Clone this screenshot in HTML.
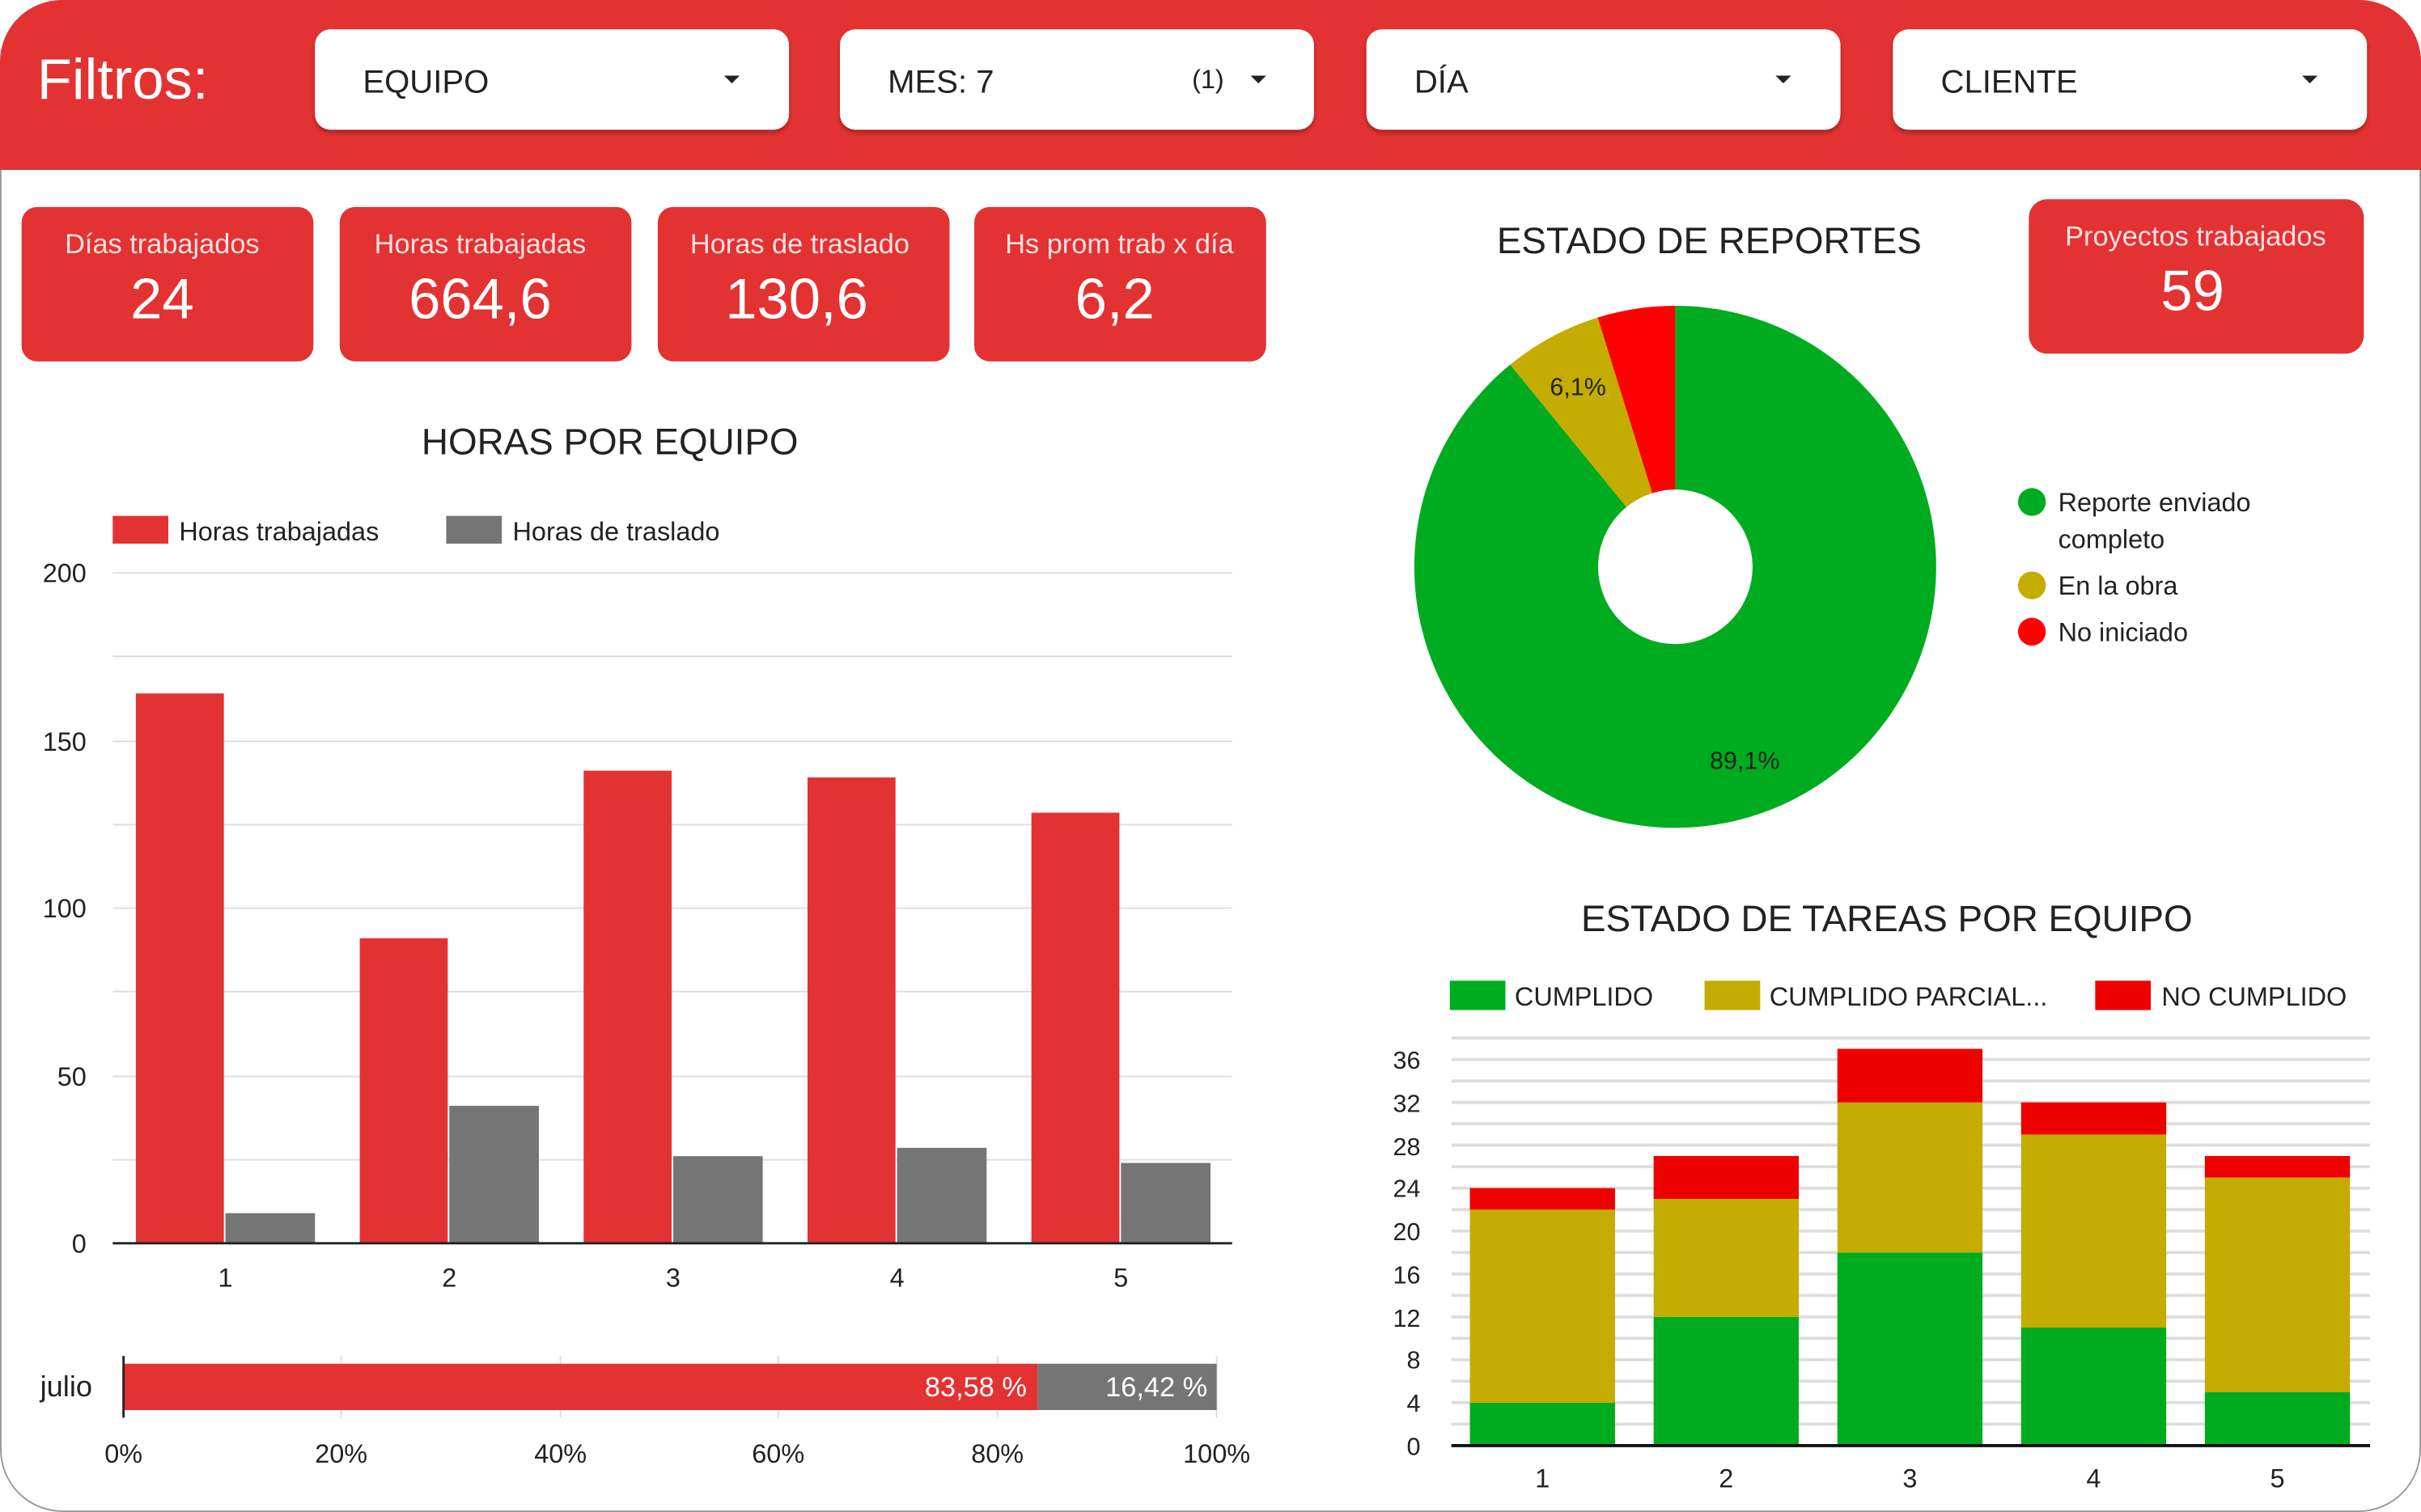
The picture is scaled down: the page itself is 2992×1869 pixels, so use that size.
<!DOCTYPE html>
<html><head><meta charset="utf-8"><style>
html,body{margin:0;padding:0;background:#fff;}
svg{display:block;}
text{font-family:"Liberation Sans",sans-serif;}
</style></head><body>
<svg width="2992" height="1869" viewBox="0 0 1568 979" preserveAspectRatio="none" xmlns="http://www.w3.org/2000/svg">
<defs><filter id="sh" x="-5%" y="-10%" width="110%" height="130%"><feDropShadow dx="0" dy="2" stdDeviation="1.5" flood-opacity="0.3"/></filter></defs>
<rect x="0.5" y="0.5" width="1567" height="978" rx="40" fill="#fff" stroke="#999" stroke-width="1"/>
<path d="M40,0 H1528 A40,40 0 0 1 1568,40 V110 H0 V40 A40,40 0 0 1 40,0 Z" fill="#e33232"/>
<text x="24" y="64" font-size="37" fill="#fff">Filtros:</text>
<g filter="url(#sh)" fill="#fff">
<rect x="204" y="19" width="307" height="65" rx="10"/>
<rect x="544" y="19" width="307" height="65" rx="10"/>
<rect x="885" y="19" width="307" height="65" rx="10"/>
<rect x="1226" y="19" width="307" height="65" rx="10"/>
</g>
<g font-size="21" fill="#222">
<text x="235" y="60">EQUIPO</text>
<text x="575" y="60">MES: 7</text>
<text x="772" y="57" font-size="17">(1)</text>
<text x="916" y="60">DÍA</text>
<text x="1257" y="60">CLIENTE</text>
</g>
<g fill="#222">
<path d="M469,49 h10 l-5,5z"/><path d="M810,49 h10 l-5,5z"/><path d="M1150,49 h10 l-5,5z"/><path d="M1491,49 h10 l-5,5z"/>
</g>
<!-- KPIs -->
<g fill="#e33232">
<rect x="14" y="134" width="189" height="100" rx="10"/>
<rect x="220" y="134" width="189" height="100" rx="10"/>
<rect x="426" y="134" width="189" height="100" rx="10"/>
<rect x="631" y="134" width="189" height="100" rx="10"/>
<rect x="1314" y="129" width="217" height="100" rx="12"/>
</g>
<g fill="#fde" text-anchor="middle" font-size="18">
<text x="105" y="164" fill="#fbe0e0">Días trabajados</text>
<text x="311" y="164" fill="#fbe0e0">Horas trabajadas</text>
<text x="518" y="164" fill="#fbe0e0">Horas de traslado</text>
<text x="725" y="164" fill="#fbe0e0">Hs prom trab x día</text>
<text x="1422" y="159" fill="#fbe0e0">Proyectos trabajados</text>
</g>
<g fill="#fff" text-anchor="middle" font-size="37">
<text x="105" y="206">24</text>
<text x="311" y="206">664,6</text>
<text x="516" y="206">130,6</text>
<text x="722" y="206">6,2</text>
<text x="1420" y="201">59</text>
</g>
<!-- Horas por equipo -->
<text x="395" y="294" font-size="24" text-anchor="middle" fill="#222">HORAS POR EQUIPO</text>
<rect x="73" y="334" width="36" height="18" fill="#e33232"/>
<text x="116" y="350" font-size="17" fill="#222">Horas trabajadas</text>
<rect x="289" y="334" width="36" height="18" fill="#757575"/>
<text x="332" y="350" font-size="17" fill="#222">Horas de traslado</text>
<g stroke="#ddd" stroke-width="1">
<line x1="73" x2="798" y1="371" y2="371"/><line x1="73" x2="798" y1="425" y2="425"/>
<line x1="73" x2="798" y1="480" y2="480"/><line x1="73" x2="798" y1="534" y2="534"/>
<line x1="73" x2="798" y1="588" y2="588"/><line x1="73" x2="798" y1="642" y2="642"/>
<line x1="73" x2="798" y1="697" y2="697"/><line x1="73" x2="798" y1="751" y2="751"/>
</g>
<g font-size="17" fill="#222" text-anchor="end">
<text x="56" y="377">200</text><text x="56" y="486">150</text><text x="56" y="594">100</text><text x="56" y="703">50</text><text x="56" y="811">0</text>
</g>
<g fill="#e33232">
<rect x="88" y="449" width="57" height="356"/>
<rect x="233" y="607.5" width="57" height="197.5"/>
<rect x="378" y="499" width="57" height="306"/>
<rect x="523" y="503.4" width="57" height="301.6"/>
<rect x="668" y="526.2" width="57" height="278.8"/>
</g>
<g fill="#757575">
<rect x="146" y="785.5" width="58" height="19.5"/>
<rect x="291" y="716" width="58" height="89"/>
<rect x="436" y="748.6" width="58" height="56.4"/>
<rect x="581" y="743.2" width="58" height="61.8"/>
<rect x="726" y="753" width="58" height="52"/>
</g>
<line x1="73" x2="798" y1="805" y2="805" stroke="#222" stroke-width="1.5"/>
<g font-size="17" fill="#222" text-anchor="middle">
<text x="146" y="833">1</text><text x="291" y="833">2</text><text x="436" y="833">3</text><text x="581" y="833">4</text><text x="726" y="833">5</text>
</g>
<!-- julio bar -->
<g stroke="#ddd"><line x1="221" x2="221" y1="878" y2="918"/><line x1="363" x2="363" y1="878" y2="918"/><line x1="504" x2="504" y1="878" y2="918"/><line x1="646" x2="646" y1="878" y2="918"/><line x1="788" x2="788" y1="878" y2="918"/></g>
<rect x="80" y="883" width="592" height="30" fill="#e33232"/>
<rect x="672" y="883" width="116" height="30" fill="#757575"/>
<line x1="80" x2="80" y1="878" y2="918" stroke="#222" stroke-width="1.5"/>
<text x="26" y="904" font-size="19" fill="#222">julio</text>
<text x="665" y="904" font-size="18" fill="#fff" text-anchor="end">83,58 %</text>
<text x="782" y="904" font-size="18" fill="#fff" text-anchor="end">16,42 %</text>
<g font-size="17" fill="#222" text-anchor="middle">
<text x="80" y="947">0%</text><text x="221" y="947">20%</text><text x="363" y="947">40%</text><text x="504" y="947">60%</text><text x="646" y="947">80%</text><text x="788" y="947">100%</text>
</g>
<!-- Estado de reportes -->
<text x="1107" y="164" font-size="24" text-anchor="middle" fill="#222">ESTADO DE REPORTES</text>
<path d="M1085,198 A169,169 0 1 1 978.1,236.1 L1053.4,328.3 A50,50 0 1 0 1085,317 Z" fill="#00ac1f"/>
<path d="M978.1,236.1 A169,169 0 0 1 1034.8,205.6 L1070.1,319.3 A50,50 0 0 0 1053.4,328.3 Z" fill="#c4ac00"/>
<path d="M1034.8,205.6 A169,169 0 0 1 1085,198 L1085,317 A50,50 0 0 0 1070.1,319.3 Z" fill="#ff0000"/>
<text x="1022" y="256" font-size="16" text-anchor="middle" fill="#222">6,1%</text>
<text x="1130" y="498" font-size="16" text-anchor="middle" fill="#222">89,1%</text>
<circle cx="1316" cy="325" r="9" fill="#00ac1f"/><text x="1333" y="331" font-size="17" fill="#222">Reporte enviado</text>
<text x="1333" y="355" font-size="17" fill="#222">completo</text>
<circle cx="1316" cy="379" r="9" fill="#c4ac00"/><text x="1333" y="385" font-size="17" fill="#222">En la obra</text>
<circle cx="1316" cy="409" r="9" fill="#ff0000"/><text x="1333" y="415" font-size="17" fill="#222">No iniciado</text>
<!-- Estado de tareas -->
<text x="1222" y="603" font-size="24" text-anchor="middle" fill="#222">ESTADO DE TAREAS POR EQUIPO</text>
<rect x="939" y="635" width="36" height="19" fill="#00ac1f"/><text x="981" y="651" font-size="17" fill="#222">CUMPLIDO</text>
<rect x="1104" y="635" width="36" height="19" fill="#c4ac00"/><text x="1146" y="651" font-size="17" fill="#222">CUMPLIDO PARCIAL...</text>
<rect x="1357" y="635" width="36" height="19" fill="#ee0000"/><text x="1400" y="651" font-size="17" fill="#222">NO CUMPLIDO</text>
<g stroke="#ddd" stroke-width="2">
<line x1="940" x2="1535" y1="922.1" y2="922.1"/><line x1="940" x2="1535" y1="908.2" y2="908.2"/><line x1="940" x2="1535" y1="894.3" y2="894.3"/><line x1="940" x2="1535" y1="880.4" y2="880.4"/><line x1="940" x2="1535" y1="866.5" y2="866.5"/><line x1="940" x2="1535" y1="852.7" y2="852.7"/><line x1="940" x2="1535" y1="838.8" y2="838.8"/><line x1="940" x2="1535" y1="824.9" y2="824.9"/><line x1="940" x2="1535" y1="811" y2="811"/><line x1="940" x2="1535" y1="797.1" y2="797.1"/><line x1="940" x2="1535" y1="783.2" y2="783.2"/><line x1="940" x2="1535" y1="769.3" y2="769.3"/><line x1="940" x2="1535" y1="755.4" y2="755.4"/><line x1="940" x2="1535" y1="741.5" y2="741.5"/><line x1="940" x2="1535" y1="727.6" y2="727.6"/><line x1="940" x2="1535" y1="713.8" y2="713.8"/><line x1="940" x2="1535" y1="699.9" y2="699.9"/><line x1="940" x2="1535" y1="686" y2="686"/><line x1="940" x2="1535" y1="672.1" y2="672.1"/>
</g>
<g font-size="16" fill="#222" text-anchor="end">
<text x="920" y="942">0</text><text x="920" y="914">4</text><text x="920" y="886">8</text><text x="920" y="859">12</text><text x="920" y="831">16</text><text x="920" y="803">20</text><text x="920" y="775">24</text><text x="920" y="748">28</text><text x="920" y="720">32</text><text x="920" y="692">36</text>
</g>
<g fill="#00ac1f">
<rect x="952" y="908.2" width="94" height="27.8"/><rect x="1071" y="852.7" width="94" height="83.3"/><rect x="1190" y="811" width="94" height="125"/><rect x="1309" y="859.6" width="94" height="76.4"/><rect x="1428" y="901.3" width="94" height="34.7"/>
</g>
<g fill="#c4ac00">
<rect x="952" y="783.2" width="94" height="125"/><rect x="1071" y="776.3" width="94" height="76.4"/><rect x="1190" y="713.8" width="94" height="97.2"/><rect x="1309" y="734.6" width="94" height="125"/><rect x="1428" y="762.4" width="94" height="138.9"/>
</g>
<g fill="#ee0000">
<rect x="952" y="769.3" width="94" height="13.9"/><rect x="1071" y="748.5" width="94" height="27.8"/><rect x="1190" y="679.1" width="94" height="34.7"/><rect x="1309" y="713.8" width="94" height="20.8"/><rect x="1428" y="748.5" width="94" height="13.9"/>
</g>
<line x1="940" x2="1535" y1="936" y2="936" stroke="#111" stroke-width="2"/>
<g font-size="17" fill="#222" text-anchor="middle">
<text x="999" y="963">1</text><text x="1118" y="963">2</text><text x="1237" y="963">3</text><text x="1356" y="963">4</text><text x="1475" y="963">5</text>
</g>
</svg>
</body></html>
